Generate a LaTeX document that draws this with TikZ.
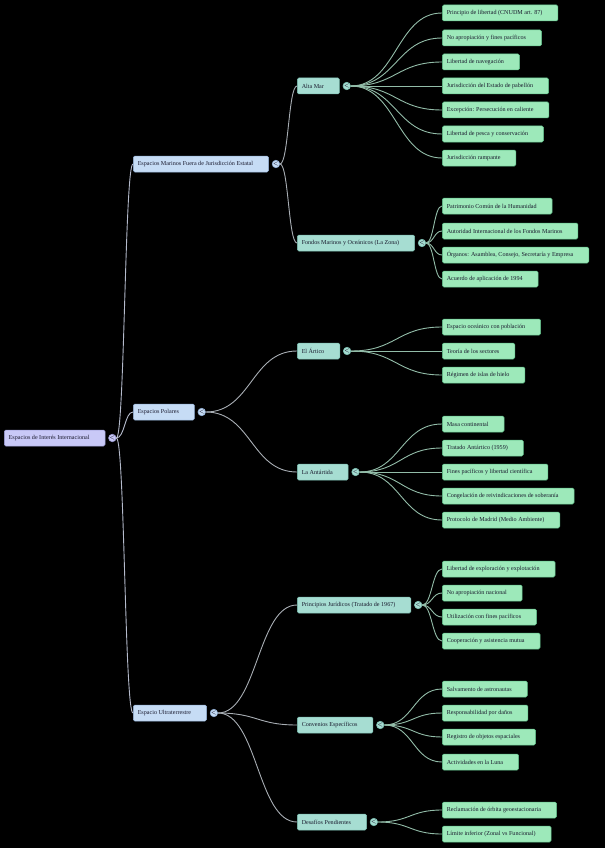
\documentclass[tikz,border=0pt]{standalone}
\usepackage{fontspec}
\setmainfont{Liberation Serif}
\usetikzlibrary{positioning,calc}
\definecolor{rootfill}{HTML}{C9C9F7}
\definecolor{rootline}{HTML}{9C9CD6}
\definecolor{onefill}{HTML}{C6DCF5}
\definecolor{oneline}{HTML}{94B2D8}
\definecolor{twofill}{HTML}{A6DDD2}
\definecolor{twoline}{HTML}{7CBFB2}
\definecolor{leaffill}{HTML}{9DE9BA}
\definecolor{leafline}{HTML}{5FC089}
\definecolor{rootedge}{HTML}{B4BACB}
\definecolor{oneedge}{HTML}{A8AEB4}
\definecolor{twoedge}{HTML}{92BCA8}
\definecolor{inktext}{HTML}{1A1A2E}
% curved branch from a toggle to the west side of a child
\newcommand{\branch}[3]{\draw[#1, line width=0.9pt] let \p1=(#2.east), \p2=(#3.west), \n1={(\x2-\x1)/2} in (\p1) .. controls +(\n1,0) and +(-\n1,0) .. (\p2);}

\begin{document}
\begin{tikzpicture}[
  x=1pt, y=-1pt,
  mapbox/.style={draw, rounded corners=1.5pt, line width=0.5pt, anchor=west, text=inktext,
    font=\fontsize{6.1}{7}\selectfont, inner xsep=4.5pt, inner ysep=0pt, minimum height=16pt,
    execute at end node={\hspace*{11pt}}},
  rootbox/.style={mapbox, fill=rootfill, draw=rootline},
  onebox/.style={mapbox, fill=onefill, draw=oneline},
  twobox/.style={mapbox, fill=twofill, draw=twoline},
  leafbox/.style={mapbox, fill=leaffill, draw=leafline},
  toggle/.style={circle, inner sep=0pt, minimum size=7.5pt, line width=0.6pt, text=inktext,
    font=\sffamily\bfseries\fontsize{6}{6}\selectfont}
]
\fill[black] (0,0) rectangle (605,848);

% root and first level
\node[rootbox] (root) at (4,438) {Espacios de Interés Internacional};
\node[toggle, fill=rootfill, draw=rootline, right=3pt of root] (root-t) {<};
\node[onebox] (marinos) at (133,164) {Espacios Marinos Fuera de Jurisdicción Estatal};
\node[toggle, fill=onefill, draw=oneline, right=3pt of marinos] (marinos-t) {<};
\node[onebox] (polares) at (133,412) {Espacios Polares};
\node[toggle, fill=onefill, draw=oneline, right=3pt of polares] (polares-t) {<};
\node[onebox] (ultra) at (133,713) {Espacio Ultraterrestre};
\node[toggle, fill=onefill, draw=oneline, right=3pt of ultra] (ultra-t) {<};

% second level
\node[twobox] (altamar) at (297,86) {Alta Mar};
\node[toggle, fill=twofill, draw=twoline, right=3pt of altamar] (altamar-t) {<};
\node[twobox] (fondos) at (297,243) {Fondos Marinos y Oceánicos (La Zona)};
\node[toggle, fill=twofill, draw=twoline, right=3pt of fondos] (fondos-t) {<};
\node[twobox] (artico) at (297,351) {El Ártico};
\node[toggle, fill=twofill, draw=twoline, right=3pt of artico] (artico-t) {<};
\node[twobox] (antartida) at (297,472) {La Antártida};
\node[toggle, fill=twofill, draw=twoline, right=3pt of antartida] (antartida-t) {<};
\node[twobox] (principios) at (297,605) {Principios Jurídicos (Tratado de 1967)};
\node[toggle, fill=twofill, draw=twoline, right=3pt of principios] (principios-t) {<};
\node[twobox] (convenios) at (297,725) {Convenios Específicos};
\node[toggle, fill=twofill, draw=twoline, right=3pt of convenios] (convenios-t) {<};
\node[twobox] (desafios) at (297,822) {Desafíos Pendientes};
\node[toggle, fill=twofill, draw=twoline, right=3pt of desafios] (desafios-t) {<};

% leaves
\node[leafbox] (am1) at (442,13) {Principio de libertad (CNUDM art. 87)};
\node[leafbox] (am2) at (442,38) {No apropiación y fines pacíficos};
\node[leafbox] (am3) at (442,62) {Libertad de navegación};
\node[leafbox] (am4) at (442,86) {Jurisdicción del Estado de pabellón};
\node[leafbox] (am5) at (442,110) {Excepción: Persecución en caliente};
\node[leafbox] (am6) at (442,134) {Libertad de pesca y conservación};
\node[leafbox] (am7) at (442,158) {Jurisdicción rampante};
\node[leafbox] (fz1) at (442,206) {Patrimonio Común de la Humanidad};
\node[leafbox] (fz2) at (442,231) {Autoridad Internacional de los Fondos Marinos};
\node[leafbox] (fz3) at (442,255) {Órganos: Asamblea, Consejo, Secretaría y Empresa};
\node[leafbox] (fz4) at (442,279) {Acuerdo de aplicación de 1994};
\node[leafbox] (ar1) at (442,327) {Espacio oceánico con población};
\node[leafbox] (ar2) at (442,351) {Teoría de los sectores};
\node[leafbox] (ar3) at (442,375) {Régimen de islas de hielo};
\node[leafbox] (an1) at (442,424) {Masa continental};
\node[leafbox] (an2) at (442,448) {Tratado Antártico (1959)};
\node[leafbox] (an3) at (442,472) {Fines pacíficos y libertad científica};
\node[leafbox] (an4) at (442,496) {Congelación de reivindicaciones de soberanía};
\node[leafbox] (an5) at (442,520) {Protocolo de Madrid (Medio Ambiente)};
\node[leafbox] (pj1) at (442,569) {Libertad de exploración y explotación};
\node[leafbox] (pj2) at (442,593) {No apropiación nacional};
\node[leafbox] (pj3) at (442,617) {Utilización con fines pacíficos};
\node[leafbox] (pj4) at (442,641) {Cooperación y asistencia mutua};
\node[leafbox] (ce1) at (442,689) {Salvamento de astronautas};
\node[leafbox] (ce2) at (442,713) {Responsabilidad por daños};
\node[leafbox] (ce3) at (442,737) {Registro de objetos espaciales};
\node[leafbox] (ce4) at (442,762) {Actividades en la Luna};
\node[leafbox] (dp1) at (442,810) {Reclamación de órbita geoestacionaria};
\node[leafbox] (dp2) at (442,834) {Límite inferior (Zonal vs Funcional)};

% branches
\branch{rootedge}{root-t}{marinos}
\branch{rootedge}{root-t}{polares}
\branch{rootedge}{root-t}{ultra}
\branch{oneedge}{marinos-t}{altamar}
\branch{oneedge}{marinos-t}{fondos}
\branch{oneedge}{polares-t}{artico}
\branch{oneedge}{polares-t}{antartida}
\branch{oneedge}{ultra-t}{principios}
\branch{oneedge}{ultra-t}{convenios}
\branch{oneedge}{ultra-t}{desafios}
\branch{twoedge}{altamar-t}{am1}
\branch{twoedge}{altamar-t}{am2}
\branch{twoedge}{altamar-t}{am3}
\branch{twoedge}{altamar-t}{am4}
\branch{twoedge}{altamar-t}{am5}
\branch{twoedge}{altamar-t}{am6}
\branch{twoedge}{altamar-t}{am7}
\branch{twoedge}{fondos-t}{fz1}
\branch{twoedge}{fondos-t}{fz2}
\branch{twoedge}{fondos-t}{fz3}
\branch{twoedge}{fondos-t}{fz4}
\branch{twoedge}{artico-t}{ar1}
\branch{twoedge}{artico-t}{ar2}
\branch{twoedge}{artico-t}{ar3}
\branch{twoedge}{antartida-t}{an1}
\branch{twoedge}{antartida-t}{an2}
\branch{twoedge}{antartida-t}{an3}
\branch{twoedge}{antartida-t}{an4}
\branch{twoedge}{antartida-t}{an5}
\branch{twoedge}{principios-t}{pj1}
\branch{twoedge}{principios-t}{pj2}
\branch{twoedge}{principios-t}{pj3}
\branch{twoedge}{principios-t}{pj4}
\branch{twoedge}{convenios-t}{ce1}
\branch{twoedge}{convenios-t}{ce2}
\branch{twoedge}{convenios-t}{ce3}
\branch{twoedge}{convenios-t}{ce4}
\branch{twoedge}{desafios-t}{dp1}
\branch{twoedge}{desafios-t}{dp2}
\end{tikzpicture}
\end{document}
